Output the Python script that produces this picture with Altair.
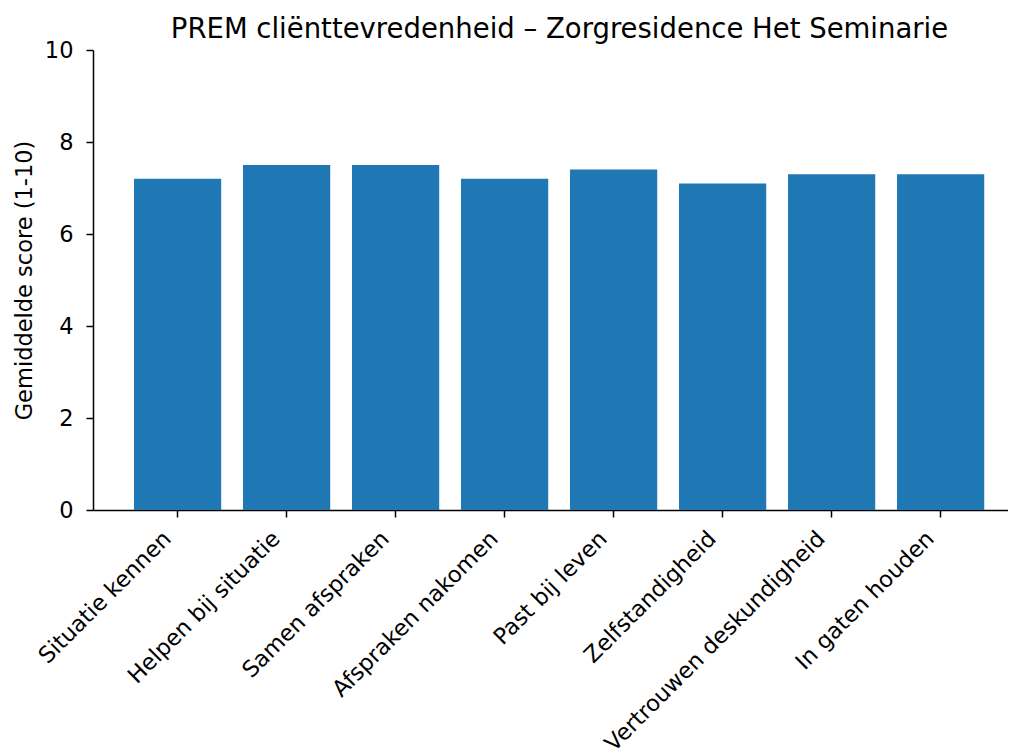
import altair as alt
import pandas as pd

categories = ["Situatie kennen", "Helpen bij situatie", "Samen afspraken", "Afspraken nakomen",
              "Past bij leven", "Zelfstandigheid", "Vertrouwen deskundigheid", "In gaten houden"]
scores = [7.2, 7.5, 7.5, 7.2, 7.4, 7.1, 7.3, 7.3]
y_ticks = [0, 2, 4, 6, 8, 10]

df = pd.DataFrame({"cat": categories, "score": scores})

font = "DejaVu Sans"
fs = 22.5

chart = alt.Chart(df).mark_bar(color="#1f77b4").encode(
    x=alt.X("cat:N", sort=categories, title=None,
            scale=alt.Scale(paddingInner=0.2, paddingOuter=0.297, align=0.633),
            axis=alt.Axis(labelAngle=-45, labelAlign="right", labelBaseline="top",
                          labelFont=font, labelFontSize=fs, labelColor="#000000",
                          labelLimit=0, labelOverlap=False,
                          tickColor="#000000", tickSize=7, tickWidth=1.5,
                          domainColor="#000000", domainWidth=1.5,
                          labelPadding=10, labelOffset=-18)),
    y=alt.Y("score:Q", title="Gemiddelde score (1-10)",
            scale=alt.Scale(domain=[0, 10], nice=False),
            axis=alt.Axis(values=y_ticks, grid=False,
                          labelFont=font, labelFontSize=fs, labelColor="#000000",
                          titleFont=font, titleFontSize=fs, titleFontWeight="normal",
                          titleColor="#000000", tickColor="#000000", tickSize=7,
                          tickWidth=1.5, domainColor="#000000", domainWidth=1.5,
                          labelPadding=13, titlePadding=8)),
).properties(
    width=915, height=460,
    title=alt.TitleParams("PREM cliënttevredenheid – Zorgresidence Het Seminarie",
                          font=font, fontSize=27.5, fontWeight="normal", color="#000000",
                          anchor="middle", frame="group", dx=9, offset=-4),
    autosize=alt.AutoSizeParams(type="none"),
    padding={"left": 85, "top": 42, "right": 0, "bottom": 243},
).configure_view(stroke=None)

chart.save("out.html", embed_options={"renderer": "svg", "actions": False})
